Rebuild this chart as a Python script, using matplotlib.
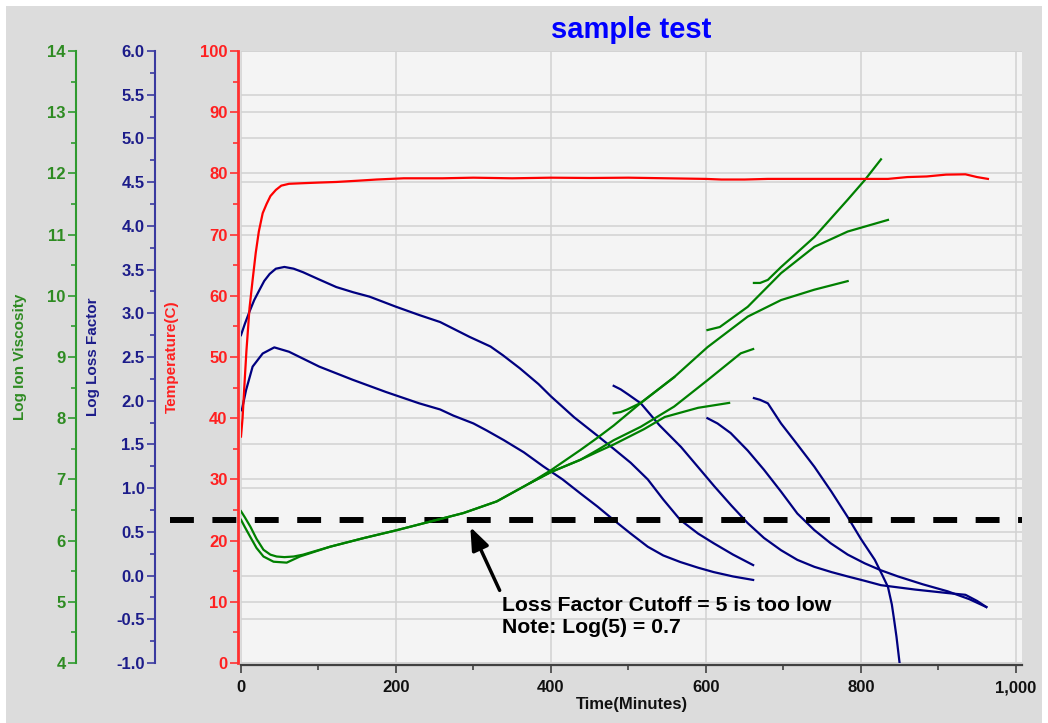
import matplotlib
matplotlib.use("Agg")
import matplotlib.pyplot as plt
import matplotlib.ticker as mticker
import matplotlib.transforms as mtransforms
from matplotlib.patches import Rectangle
from matplotlib.font_manager import FontProperties

plt.rcParams["font.family"] = ["Liberation Sans", "DejaVu Sans"]

# temperature (C)
temp_t = [0, 2, 4, 7, 11, 15, 19, 23, 28, 33, 38, 45, 52, 62, 80, 100, 123, 150, 175, 210,
          260, 300, 350, 400, 450, 500, 550, 600, 620, 650, 680, 720, 780, 835, 860, 885,
          910, 935, 950, 964]
temp_c = [37, 40, 44.5, 51, 58, 62.6, 67, 70.5, 73.5, 75, 76.3, 77.3, 78, 78.3, 78.4, 78.5,
          78.6, 78.8, 79.0, 79.2, 79.2, 79.3, 79.2, 79.3, 79.25, 79.3, 79.2, 79.1, 79.0, 79.0,
          79.1, 79.1, 79.1, 79.1, 79.4, 79.5, 79.8, 79.85, 79.4, 79.1]

# log loss factor curves
lf_a_t = [0, 5, 11, 17, 24, 30, 37, 45, 56, 68, 80, 100, 123, 145, 166, 200, 230, 257, 295,
          322, 338, 360, 384, 400, 430, 460, 481, 503, 525, 545, 567, 590, 610, 635, 661]
lf_a = [2.75, 2.88, 3.02, 3.15, 3.27, 3.37, 3.45, 3.51, 3.53, 3.51, 3.47, 3.39, 3.30, 3.24,
        3.19, 3.075, 2.98, 2.90, 2.73, 2.62, 2.52, 2.37, 2.19, 2.05, 1.81, 1.60, 1.45, 1.29,
        1.10, 0.87, 0.636, 0.48, 0.37, 0.24, 0.12]
lf_b_t = [1, 6.5, 15, 28, 43, 62, 101, 144, 187, 230, 257, 274, 300, 317, 339, 365, 390, 415,
          438, 460, 481, 503, 525, 545, 567, 590, 610, 635, 661]
lf_b = [1.89, 2.12, 2.39, 2.54, 2.61, 2.56, 2.39, 2.24, 2.10, 1.97, 1.90, 1.83, 1.74, 1.66,
        1.55, 1.41, 1.25, 1.10, 0.94, 0.79, 0.636, 0.48, 0.33, 0.23, 0.155, 0.09, 0.04,
        -0.01, -0.05]
lf_c_t = [481, 490, 500, 516, 540, 568, 590, 611, 633, 654, 675, 697, 718, 740, 762, 783, 805,
          826, 870, 912, 935, 950, 962]
lf_c = [2.17, 2.13, 2.07, 1.97, 1.72, 1.47, 1.24, 1.02, 0.80, 0.60, 0.43, 0.29, 0.18, 0.10,
        0.04, -0.01, -0.06, -0.11, -0.16, -0.20, -0.22, -0.29, -0.36]
lf_d_t = [602, 615, 632, 654, 675, 697, 718, 740, 761, 783, 805, 826, 848, 880, 912, 940, 962]
lf_d = [1.80, 1.74, 1.63, 1.43, 1.21, 0.96, 0.71, 0.52, 0.37, 0.24, 0.14, 0.06, -0.01, -0.10,
        -0.18, -0.27, -0.36]
lf_e_t = [662, 670, 680, 697, 718, 740, 762, 783, 800, 818, 828, 835, 840, 843, 846, 848, 850]
lf_e = [2.03, 2.01, 1.97, 1.74, 1.50, 1.245, 0.96, 0.67, 0.42, 0.18, 0.0, -0.13, -0.33, -0.51,
        -0.7, -0.85, -1.0]

# log ion viscosity curves
iv_a_t = [0, 5, 12, 20, 29, 38, 46, 56, 68, 80, 115, 158, 201, 244, 287, 330, 373, 400, 438,
          460, 481, 516, 559, 602, 654, 697, 740, 783]
iv_a = [6.48, 6.38, 6.23, 6.03, 5.85, 5.77, 5.74, 5.73, 5.74, 5.77, 5.90, 6.04, 6.17, 6.31,
        6.45, 6.64, 6.94, 7.15, 7.48, 7.68, 7.88, 8.25, 8.67, 9.16, 9.66, 9.93, 10.10, 10.24]
iv_b_t = [0, 5, 12, 20, 29, 42, 59, 76, 115, 158, 201, 244, 287, 330, 373, 400, 438, 460, 481,
          516, 559, 602, 645, 661]
iv_b = [6.34, 6.22, 6.06, 5.88, 5.74, 5.655, 5.64, 5.74, 5.90, 6.04, 6.17, 6.31, 6.45, 6.64,
        6.94, 7.12, 7.32, 7.48, 7.64, 7.86, 8.19, 8.62, 9.06, 9.13]
iv_z_t = [373, 400, 438, 460, 481, 520, 547, 590, 630]
iv_z = [6.94, 7.12, 7.32, 7.45, 7.57, 7.82, 8.02, 8.17, 8.25]
iv_c_t = [481, 490, 498, 516, 559]
iv_c = [8.08, 8.10, 8.14, 8.25, 8.67]
iv_d_t = [602, 618, 654, 697, 740, 783, 835]
iv_d = [9.44, 9.49, 9.82, 10.37, 10.80, 11.05, 11.24]
iv_e_t = [662, 670, 680, 697, 740, 783, 805, 826]
iv_e = [10.21, 10.21, 10.26, 10.47, 10.96, 11.57, 11.89, 12.23]

cutoff = 0.63

BG = "#dcdcdc"
PLOT_BG = "#f4f4f4"
GRID = "#d2d2d2"
GREEN = "#008000"
NAVY = "#000080"
RED = "#ff0000"
W, H = 1048, 723

fig = plt.figure(figsize=(W / 100, H / 100), dpi=100, facecolor="white")
fig.add_artist(Rectangle((6 / W, 0), (W - 12) / W, (H - 6) / H, transform=fig.transFigure,
                         facecolor=BG, edgecolor="none", zorder=-10))

base = fig.add_axes([241 / W, 1 - 663 / H, 781 / W, 612 / H])
ax_iv = base.twinx()
ax_t = base.twinx()

base.set_facecolor(PLOT_BG)
base.set_xlim(0, 1008)
base.set_ylim(-1, 6)
ax_iv.set_ylim(4, 14)
ax_t.set_ylim(0, 100)

# grids all live on the bottom axes so every curve sits above them
base.set_axisbelow(True)
base.grid(True, which="major", color=GRID, linewidth=1.1)
trans = mtransforms.blended_transform_factory(base.transAxes, ax_t.transData)
for v in range(0, 101, 10):
    base.plot([0, 1], [v, v], transform=trans, color=GRID, linewidth=1.1, zorder=0.6)

for ax in (base, ax_iv, ax_t):
    for s in ("top", "right"):
        ax.spines[s].set_visible(False)
for ax in (ax_iv, ax_t):
    ax.spines["bottom"].set_visible(False)
    ax.spines["left"].set_visible(True)
    ax.yaxis.tick_left()

axis_styles = [
    (base, "#1c1c8a", "#3a3aa0", 86 * 0.72, mticker.MultipleLocator(0.5),
     mticker.MultipleLocator(0.25), mticker.FormatStrFormatter("%.1f")),
    (ax_iv, "#2e8b22", "#2f9a2f", 165 * 0.72, mticker.MultipleLocator(1),
     mticker.MultipleLocator(0.5), mticker.FormatStrFormatter("%d")),
    (ax_t, "#ff2020", "#ff3030", 3 * 0.72, mticker.MultipleLocator(10),
     mticker.MultipleLocator(5), mticker.FormatStrFormatter("%d")),
]
for ax, tcol, scol, off, maj, mnr, fmt in axis_styles:
    ax.spines["left"].set_position(("outward", off))
    ax.spines["left"].set_color(scol)
    ax.spines["left"].set_linewidth(1.5 if ax is not ax_t else 2)
    ax.yaxis.set_major_locator(maj)
    ax.yaxis.set_minor_locator(mnr)
    ax.yaxis.set_major_formatter(fmt)
    ax.tick_params(axis="y", which="major", length=6, width=1.2, color=scol, pad=1.5,
                   labelsize=12, labelcolor=tcol)
    ax.tick_params(axis="y", which="minor", length=3.5, width=1.2, color=scol)
    for lab in ax.get_yticklabels():
        lab.set_fontweight("bold")

base.xaxis.set_major_locator(mticker.MultipleLocator(200))
base.xaxis.set_minor_locator(mticker.MultipleLocator(100))
base.xaxis.set_major_formatter(mticker.FuncFormatter(lambda v, _: f"{v:,.0f}"))
base.spines["bottom"].set_color("#404040")
base.spines["bottom"].set_linewidth(1.6)
base.spines["bottom"].set_position(("outward", 1.5))
base.tick_params(axis="x", which="major", length=6, width=1.2, color="#404040", pad=5,
                 labelsize=12, labelcolor="#111111")
base.tick_params(axis="x", which="minor", length=3.5, width=1.2, color="#404040")
for lab in base.get_xticklabels():
    lab.set_fontweight("bold")
base.set_xlabel("Time(Minutes)", fontsize=12, fontweight="bold", color="#111111", labelpad=1)

# curves
for tt, vv in [(lf_a_t, lf_a), (lf_b_t, lf_b), (lf_c_t, lf_c), (lf_d_t, lf_d), (lf_e_t, lf_e)]:
    base.plot(tt, vv, color=NAVY, linewidth=1.6, zorder=3)
for tt, vv in [(iv_a_t, iv_a), (iv_b_t, iv_b), (iv_z_t, iv_z), (iv_c_t, iv_c),
               (iv_d_t, iv_d), (iv_e_t, iv_e)]:
    ax_iv.plot(tt, vv, color=GREEN, linewidth=1.6, zorder=3)
ax_t.plot(temp_t, temp_c, color=RED, linewidth=1.6, zorder=3)

# loss factor cutoff line, runs out into the axis area on the left
base.plot([-92, 1008], [cutoff, cutoff], color="black", linewidth=4.3,
          dashes=(4, 3.1), clip_on=False, zorder=4)

note_font = FontProperties(family=["Liberation Sans", "DejaVu Sans"], weight="bold", size=15.3)
base.annotate("Loss Factor Cutoff = 5 is too low\nNote: Log(5) = 0.7",
              xy=(296, 0.556), xytext=(337, -0.23), ha="left", va="top",
              fontproperties=note_font, color="black", zorder=5,
              arrowprops=dict(arrowstyle="-|>,head_length=0.9,head_width=0.35",
                              color="black", linewidth=2.5, relpos=(0, 1),
                              shrinkA=2, shrinkB=0))

base.set_title("sample test", fontsize=21, fontweight="bold", color="#0000ff", pad=9)

label_y = 1 - 357 / H
fig.text(20 / W, label_y, "Log Ion Viscosity", rotation=90, ha="center", va="center",
         fontsize=11, fontweight="bold", color="#2e8b22")
fig.text(93 / W, label_y, "Log Loss Factor", rotation=90, ha="center", va="center",
         fontsize=11, fontweight="bold", color="#1c1c8a")
fig.text(172 / W, label_y, "Temperature(C)", rotation=90, ha="center", va="center",
         fontsize=11, fontweight="bold", color="#ff2020")

fig.savefig("out.png", dpi=100, facecolor=fig.get_facecolor())
